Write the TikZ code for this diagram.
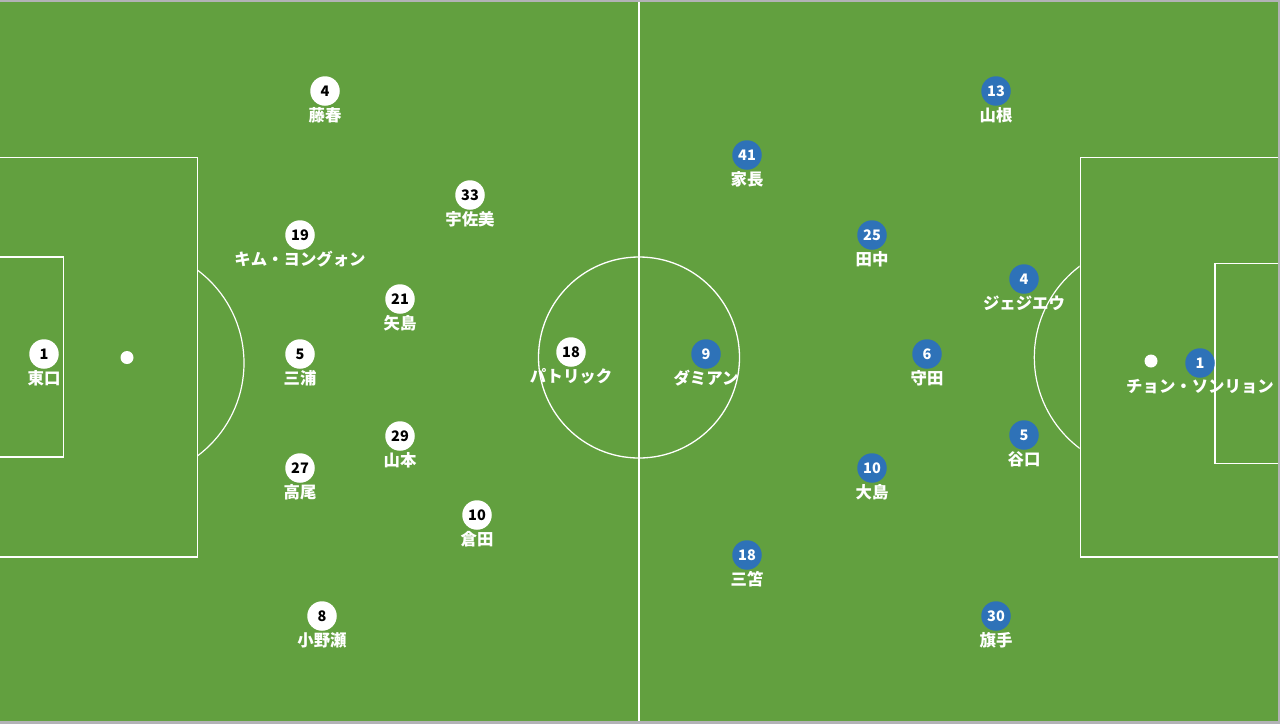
\documentclass[tikz,border=0pt]{standalone}
\usepackage{fontspec}
\setmainfont{Noto Sans CJK JP}
\newfontfamily\cjk{Noto Sans CJK JP}
\definecolor{pitch}{RGB}{98,160,63}
\definecolor{edge}{RGB}{178,178,182}
\definecolor{teamblue}{RGB}{46,114,184}
\tikzset{
  fieldline/.style={draw=white, line width=1.3pt},
  homedisc/.style={circle, fill=white, text=black, minimum size=29.5pt, inner sep=0pt, font=\cjk\bfseries\fontsize{14.5}{14.5}\selectfont},
  awaydisc/.style={circle, fill=teamblue, text=white, minimum size=29.5pt, inner sep=0pt, font=\cjk\bfseries\fontsize{14.5}{14.5}\selectfont},
  pname/.style={text=white, inner sep=0pt, font=\cjk\bfseries\fontsize{16.4}{16.4}\selectfont},
  spotdot/.style={circle, fill=white, minimum size=13pt, inner sep=0pt}
}
\newcommand\plyr[6]{%
  \node[#6] (#1) at (#2,#3) {#4};
  \node[pname] (#1l) at (#2,#3+24) {#5};
}
\begin{document}
\begin{tikzpicture}[x=1pt,y=-1pt]
\useasboundingbox (0,0) rectangle (1280,724);
\fill[edge] (0,0) rectangle (1280,724);
\fill[pitch] (0,2) rectangle (1278,721);
% halfway line and centre circle
\draw[fieldline] (639,2) -- (639,721);
\draw[fieldline] (639,357.5) circle (100.5);
% left end
\draw[fieldline] (0,157.5) -- (197.5,157.5) -- (197.5,557) -- (0,557);
\draw[fieldline] (0,257) -- (63.3,257) -- (63.3,457) -- (0,457);
\node[spotdot] (lspot) at (127,357.5) {};
\begin{scope}
\clip (198.2,0) rectangle (400,724);
\draw[fieldline, line width=1.2pt] (128,363) circle (116);
\end{scope}
% right end
\draw[fieldline] (1278,157.5) -- (1080.3,157.5) -- (1080.3,557) -- (1278,557);
\draw[fieldline] (1278,263.7) -- (1215,263.7) -- (1215,463.3) -- (1278,463.3);
\node[spotdot] (rspot) at (1151,361) {};
\begin{scope}
\clip (900,0) rectangle (1079.6,724);
\draw[fieldline, line width=1.2pt] (1148.4,357.3) circle (114.1);
\end{scope}
% home team
\plyr{h1}{44}{354}{1}{東口}{homedisc}
\plyr{h4}{325}{91}{4}{藤春}{homedisc}
\plyr{h33}{470}{195}{33}{宇佐美}{homedisc}
\plyr{h19}{300}{235}{19}{キム・ヨングォン}{homedisc}
\plyr{h21}{400}{299}{21}{矢島}{homedisc}
\plyr{h5}{300}{354}{5}{三浦}{homedisc}
\plyr{h18}{571}{352}{18}{パトリック}{homedisc}
\plyr{h29}{400}{436}{29}{山本}{homedisc}
\plyr{h27}{300}{468}{27}{高尾}{homedisc}
\plyr{h10}{477}{515}{10}{倉田}{homedisc}
\plyr{h8}{322}{616}{8}{小野瀬}{homedisc}
% away team
\plyr{a13}{996}{91}{13}{山根}{awaydisc}
\plyr{a41}{747}{155}{41}{家長}{awaydisc}
\plyr{a25}{872}{235}{25}{田中}{awaydisc}
\plyr{a4}{1024}{279}{4}{ジェジエウ}{awaydisc}
\plyr{a9}{706}{354}{9}{ダミアン}{awaydisc}
\plyr{a6}{927}{354}{6}{守田}{awaydisc}
\plyr{a1}{1200}{363}{1}{チョン・ソンリョン}{awaydisc}
\plyr{a5}{1024}{435}{5}{谷口}{awaydisc}
\plyr{a10}{872}{468}{10}{大島}{awaydisc}
\plyr{a18}{747}{555}{18}{三笘}{awaydisc}
\plyr{a30}{996}{616}{30}{旗手}{awaydisc}
\end{tikzpicture}
\end{document}
